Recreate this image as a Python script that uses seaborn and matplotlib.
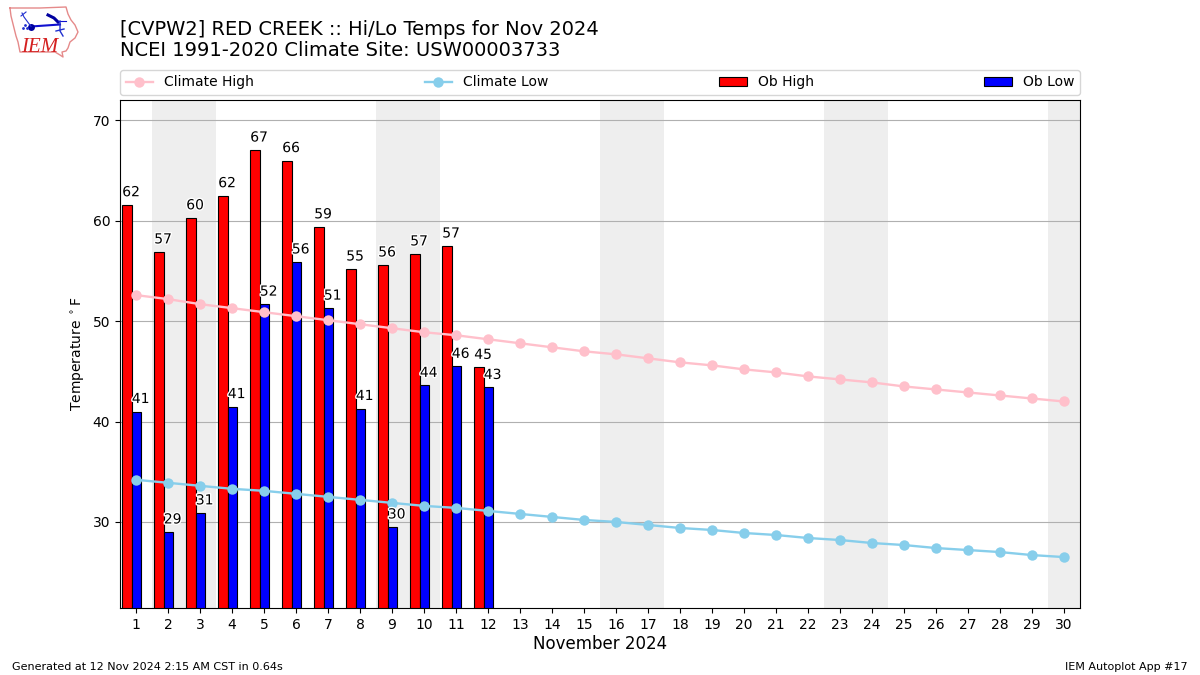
import pandas as pd
import matplotlib.pyplot as plt
import matplotlib.patheffects as pe
from matplotlib.patches import Patch
import seaborn as sns

# data
days = list(range(1, 31))
climate_high = [52.6, 52.2, 51.7, 51.3, 50.9, 50.5, 50.1, 49.7, 49.3, 48.9,
                48.6, 48.2, 47.8, 47.4, 47.0, 46.7, 46.3, 45.9, 45.6, 45.2,
                44.9, 44.5, 44.2, 43.9, 43.5, 43.2, 42.9, 42.6, 42.3, 42.0]
climate_low = [34.2, 33.9, 33.6, 33.3, 33.1, 32.8, 32.5, 32.2, 31.9, 31.6,
               31.4, 31.1, 30.8, 30.5, 30.2, 30.0, 29.7, 29.4, 29.2, 28.9,
               28.7, 28.4, 28.2, 27.9, 27.7, 27.4, 27.2, 27.0, 26.7, 26.5]
ob_days = list(range(1, 13))
ob_high = [61.6, 56.9, 60.3, 62.5, 67.05, 66.0, 59.4, 55.2, 55.6, 56.7, 57.49, 45.4]
ob_low = [41.0, 29.0, 30.9, 41.49, 51.7, 55.9, 51.3, 41.3, 29.5, 43.6, 45.5, 43.4]
weekends = [(1.5, 3.5), (8.5, 10.5), (15.5, 17.5), (22.5, 24.5), (29.5, 30.5)]

fig = plt.figure(figsize=(12, 6.75), dpi=100)
ax = fig.add_axes([0.1, 0.0993, 0.8, 0.7526])

for start, end in weekends:
    ax.axvspan(start, end, color="#EEEEEE", lw=0, zorder=0)

# bars sit left of the day tick, like the original
bar_df = pd.DataFrame({
    "x": [d - 0.13 for d in ob_days] * 2,
    "temp": ob_high + ob_low,
    "series": ["Ob High"] * 12 + ["Ob Low"] * 12,
})
sns.barplot(data=bar_df, x="x", y="temp", hue="series", hue_order=["Ob High", "Ob Low"],
            palette={"Ob High": "red", "Ob Low": "blue"}, native_scale=True, width=0.6,
            gap=0, saturation=1, errorbar=None, edgecolor="black", linewidth=0.8,
            legend=False, ax=ax)

sns.lineplot(x=days, y=climate_high, color="pink", marker="o", markersize=7.5,
             markeredgewidth=0, lw=1.7, label="Climate High", legend=False, ax=ax)
sns.lineplot(x=days, y=climate_low, color="skyblue", marker="o", markersize=7.5,
             markeredgewidth=0, lw=1.7, label="Climate Low", legend=False, ax=ax)

halo = [pe.withStroke(linewidth=2, foreground="white")]
for d, hi, lo in zip(ob_days, ob_high, ob_low):
    ax.text(d - 0.43, hi + 0.55, f"{hi:.0f}", ha="left", va="bottom", fontsize=10,
            path_effects=halo, zorder=5)
    ax.text(d - 0.13, lo + 0.55, f"{lo:.0f}", ha="left", va="bottom", fontsize=10,
            path_effects=halo, zorder=5)

ax.set_xlim(0.5, 30.5)
ax.set_ylim(21.43, 72.04)
ax.set_xticks(days)
ax.set_xticklabels([str(d) for d in days])
ax.set_yticks([30, 40, 50, 60, 70])
ax.set_axisbelow(True)
ax.grid(axis="y", color="#b0b0b0", lw=0.8)
ax.grid(axis="x", visible=False)
ax.set_xlabel("November 2024", fontsize=12, labelpad=2.5)
ax.set_ylabel(r"Temperature $^\circ$F", fontsize=10)

handles, labels = ax.get_legend_handles_labels()
handles = handles[:2] + [Patch(fc="red", ec="black", lw=0.8), Patch(fc="blue", ec="black", lw=0.8)]
labels = ["Climate High", "Climate Low", "Ob High", "Ob Low"]
ax.legend(handles, labels, ncol=4, mode="expand", loc="lower left",
          bbox_to_anchor=(0, 1.0098, 1, 0.05), borderaxespad=0, fontsize=10)

fig.text(0.1, 0.9565, "[CVPW2] RED CREEK :: Hi/Lo Temps for Nov 2024", fontsize=14, va="center")
fig.text(0.1, 0.9255, "NCEI 1991-2020 Climate Site: USW00003733", fontsize=14, va="center")
fig.text(0.01, 0.012, "Generated at 12 Nov 2024 2:15 AM CST in 0.64s", fontsize=8, va="center")
fig.text(0.99, 0.012, "IEM Autoplot App #17", fontsize=8, ha="right", va="center")

# small IEM logo, in pixel coordinates of the figure
logo = fig.add_axes([0, 1 - 60 / 675, 80 / 1200, 60 / 675])
logo.set_xlim(0, 80)
logo.set_ylim(60, 0)
logo.axis("off")
outline_x = [10, 40, 66, 68, 71, 75, 78, 75, 70, 68, 66, 62, 63, 60, 55, 20, 18, 16, 14, 11, 10]
outline_y = [8, 8, 7, 14, 20, 25, 32, 38, 42, 48, 51, 52, 57, 55, 52, 52, 42, 36, 28, 16, 8]
logo.plot(outline_x, outline_y, color="#e58a8a", lw=1)
logo.plot([31, 60], [26.5, 24.5], color="#1010d0", lw=1.5)
logo.plot([31], [26.5], "o", color="#0000a0", ms=5, mew=0)
logo.plot([31, 24, 22], [26.5, 17, 13], color="#2030d0", lw=0.8)
logo.plot([21, 26], [16, 12], color="#2030d0", lw=0.8)
logo.plot([48, 54, 58], [15, 18, 22], color="#0000a0", lw=2.2)
logo.plot([58, 66], [21, 21], color="#1010d0", lw=0.8)
logo.plot([60, 60, 63], [21, 31, 36], color="#2030d0", lw=1)
logo.plot([56, 64], [31, 29], color="#2030d0", lw=1)
logo.plot([23, 25, 27], [28, 25, 28], ".", color="#2030d0", ms=2)
logo.text(21, 51.5, "IEM", color="#d42020", fontsize=15, style="italic",
          family="Liberation Serif", va="baseline")

fig.savefig("out.png", dpi=100)
